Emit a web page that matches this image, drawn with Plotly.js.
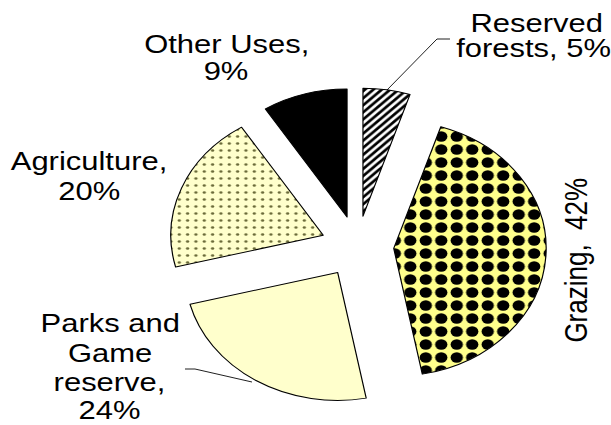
<!DOCTYPE html>
<html>
<head>
<meta charset="utf-8">
<script src="https://cdn.plot.ly/plotly-3.0.1.min.js"></script>
<style>
  html, body { margin: 0; padding: 0; background: #fff; overflow: hidden; }
  #wrap { width: 611px; height: 425px; overflow: hidden; }
  #plot { width: 513px; height: 425px; transform: scaleX(1.191); transform-origin: 0 0; }
</style>
</head>
<body>
<div id="wrap"><div id="plot"></div></div>
<script>
// ---- data ----
const categories = ['Reserved forests', 'Grazing', 'Parks and Game reserve', 'Agriculture', 'Other Uses'];
const shares = [5, 42, 24, 20, 9];
const pct = i => shares[i] + '%';
const labelLines = [
  ['Reserved', 'forests, ' + pct(0)],
  ['Grazing,  ' + pct(1)],
  ['Parks and', 'Game', 'reserve,', pct(2)],
  ['Agriculture,', pct(3)],
  ['Other Uses,', pct(4)]
];

// ---- styling / layout ----
const W = 611, H = 425;
const FONT = 'Liberation Sans, Arial, sans-serif';
const fs = 26;
// screen-pixel placement of each label line: [centerX, baselineY]
const labelPlace = [
  [[536, 32], [533, 57]],
  [[576, 260]],
  [[110, 332], [110, 362], [110, 391], [110, 419]],
  [[89, 170], [89, 200]],
  [[227, 53], [226, 80]]
];
const px = x => x / W, py = y => 1 - y / H;

const annotations = [];
labelLines.forEach((lines, i) => {
  lines.forEach((t, j) => {
    const [x, y] = labelPlace[i][j];
    const rotated = (i === 1);
    annotations.push({
      xref: 'paper', yref: 'paper',
      x: px(x), y: rotated ? py(y) : py(y - 9),
      text: t, showarrow: false,
      xanchor: 'center', yanchor: 'middle',
      borderpad: 0,
      textangle: rotated ? -90 : 0,
      font: { family: FONT, size: fs, color: '#000' }
    });
  });
});

const leader = pts => 'M ' + pts.map(p => px(p[0]) + ',' + py(p[1])).join(' L ');
const shapes = [
  { type: 'path', xref: 'paper', yref: 'paper', path: leader([[387, 90], [437, 39], [450, 39]]), line: { color: '#000', width: 0.8 } },
  { type: 'path', xref: 'paper', yref: 'paper', path: leader([[185, 369], [195, 369], [252, 382]]), line: { color: '#000', width: 0.8 } }
];

const trace = {
  type: 'pie',
  labels: categories,
  values: shares,
  sort: false,
  direction: 'clockwise',
  rotation: 0,
  pull: [0.24, 0.24, 0.24, 0.24, 0.24],
  textinfo: 'none',
  hoverinfo: 'none',
  showlegend: false,
  domain: { x: [0.2754, 0.894], y: [0.0466, 0.7934] },
  marker: {
    colors: ['#ffffff', '#ffff8c', '#ffffcc', '#ffffcc', '#000000'],
    line: { color: '#000', width: 1 },
    pattern: {
      shape: ['/', '.', '', '.', ''],
      fgcolor: ['#000000', '#000000', '#ffffcc', '#6b6b3a', '#000000'],
      bgcolor: ['#ffffff', '#ffff8c', '#ffffcc', '#ffffcc', '#000000'],
      size: [5, 13, 8, 7, 8],
      solidity: [0.5, 0.5, 0.3, 0.12, 0.3],
      fillmode: 'replace'
    }
  }
};

const layout = {
  width: 513, height: H,
  margin: { l: 0, r: 0, t: 0, b: 0 },
  paper_bgcolor: '#fff',
  plot_bgcolor: '#fff',
  showlegend: false,
  annotations: annotations,
  shapes: shapes
};

Plotly.newPlot('plot', [trace], layout, { displayModeBar: false, staticPlot: true });
</script>
</body>
</html>
